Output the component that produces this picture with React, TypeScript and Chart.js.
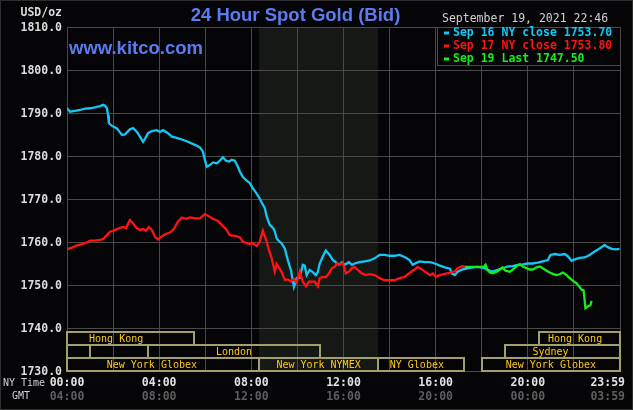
import React, { useEffect, useRef } from "react";
import { Chart, registerables } from "chart.js";

Chart.register(...registerables);

// ---- data (minutes after 00:00 NY time, price in USD/oz) ----
const sep16Minutes = [0, 8, 21, 34, 47, 60, 73, 86, 94, 99, 104, 107, 109, 117, 130, 138, 143, 151, 156, 164, 172, 182, 190, 198, 203, 211, 221, 234, 242, 250, 263, 273, 286, 307, 320, 333, 346, 354, 359, 364, 372, 380, 390, 398, 406, 414, 422, 429, 437, 445, 450, 458, 468, 476, 484, 492, 500, 507, 515, 520, 528, 536, 541, 546, 554, 559, 567, 575, 583, 591, 598, 606, 614, 619, 624, 632, 640, 648, 653, 658, 666, 674, 684, 692, 700, 708, 716, 723, 734, 742, 749, 762, 775, 788, 801, 814, 827, 840, 853, 866, 879, 892, 900, 911, 918, 932, 945, 958, 971, 984, 997, 1002, 1010, 1017, 1028, 1049, 1069, 1088, 1095, 1108, 1121, 1134, 1147, 1160, 1174, 1187, 1200, 1213, 1226, 1239, 1252, 1259, 1270, 1283, 1296, 1304, 1314, 1324, 1335, 1348, 1361, 1374, 1387, 1400, 1408, 1418, 1429, 1439];
const sep16Prices = [1791.1, 1790.3, 1790.5, 1790.7, 1791.0, 1791.1, 1791.3, 1791.6, 1791.9, 1791.7, 1791.1, 1789.5, 1787.6, 1787.0, 1786.4, 1785.5, 1784.9, 1785.0, 1785.5, 1786.2, 1786.5, 1785.6, 1784.5, 1783.3, 1784.0, 1785.3, 1785.8, 1786.0, 1785.6, 1786.0, 1785.3, 1784.5, 1784.2, 1783.6, 1783.1, 1782.6, 1782.0, 1781.0, 1779.1, 1777.5, 1777.9, 1778.5, 1778.3, 1778.9, 1779.7, 1778.9, 1778.7, 1779.1, 1778.9, 1777.5, 1776.4, 1775.1, 1774.3, 1773.7, 1772.5, 1771.5, 1770.4, 1769.2, 1767.9, 1765.9, 1764.0, 1763.3, 1762.5, 1760.8, 1760.0, 1759.7, 1758.5, 1755.8, 1753.5, 1749.6, 1751.6, 1751.7, 1754.7, 1754.5, 1752.3, 1753.5, 1753.0, 1752.3, 1753.0, 1755.0, 1756.6, 1758.0, 1757.0, 1755.8, 1755.3, 1754.7, 1755.3, 1754.7, 1755.3, 1754.7, 1755.0, 1755.3, 1755.5, 1755.7, 1756.2, 1757.0, 1757.0, 1756.8, 1756.8, 1757.0, 1756.5, 1755.8, 1754.7, 1755.2, 1755.5, 1755.3, 1755.3, 1755.0, 1754.5, 1754.1, 1753.8, 1752.7, 1752.3, 1753.1, 1753.6, 1754.0, 1754.2, 1753.9, 1753.5, 1753.1, 1753.5, 1753.9, 1754.3, 1754.4, 1754.7, 1754.8, 1755.0, 1755.0, 1755.2, 1755.5, 1755.8, 1757.0, 1757.2, 1757.0, 1757.2, 1756.7, 1755.6, 1756.0, 1756.3, 1756.4, 1757.0, 1757.8, 1758.5, 1759.3, 1758.8, 1758.4, 1758.3, 1758.4];

const sep17Minutes = [0, 13, 26, 39, 52, 60, 73, 86, 94, 104, 112, 120, 130, 138, 146, 154, 159, 164, 172, 182, 190, 198, 206, 213, 221, 229, 237, 245, 255, 268, 278, 289, 299, 310, 320, 333, 346, 359, 369, 380, 393, 403, 414, 424, 437, 450, 458, 468, 476, 484, 494, 502, 510, 518, 526, 533, 541, 546, 551, 559, 567, 575, 583, 591, 598, 606, 614, 622, 630, 637, 645, 653, 658, 666, 674, 682, 690, 697, 703, 710, 718, 726, 734, 742, 749, 757, 768, 778, 788, 801, 814, 827, 840, 853, 866, 879, 892, 905, 913, 921, 932, 945, 953, 960, 971, 984, 997, 1010, 1017, 1028, 1036];
const sep17Prices = [1758.3, 1758.7, 1759.2, 1759.5, 1759.9, 1760.3, 1760.3, 1760.5, 1760.7, 1761.6, 1762.4, 1762.6, 1763.0, 1763.3, 1763.5, 1763.2, 1764.3, 1765.1, 1764.3, 1763.2, 1762.8, 1763.0, 1762.6, 1763.5, 1762.8, 1761.2, 1760.6, 1761.2, 1761.8, 1762.2, 1763.0, 1764.7, 1765.7, 1765.4, 1765.7, 1765.5, 1765.5, 1766.5, 1766.0, 1765.4, 1764.9, 1764.0, 1763.0, 1761.6, 1761.4, 1761.1, 1760.1, 1759.7, 1759.6, 1759.7, 1759.1, 1760.1, 1762.6, 1760.6, 1758.1, 1756.2, 1753.1, 1754.9, 1754.2, 1753.0, 1751.2, 1751.3, 1750.8, 1751.3, 1750.5, 1753.1, 1750.8, 1749.7, 1750.8, 1750.8, 1750.8, 1749.7, 1751.6, 1751.9, 1751.8, 1752.7, 1753.9, 1754.2, 1755.0, 1754.7, 1755.2, 1752.7, 1753.1, 1753.9, 1754.2, 1753.5, 1752.7, 1752.3, 1752.5, 1752.3, 1751.6, 1751.1, 1751.1, 1751.1, 1751.6, 1751.9, 1752.8, 1753.6, 1754.2, 1753.8, 1753.1, 1752.3, 1752.7, 1751.9, 1752.3, 1752.6, 1752.8, 1753.2, 1753.9, 1754.3, 1754.3];

const sep19Minutes = [1036, 1062, 1085, 1090, 1095, 1101, 1108, 1119, 1127, 1134, 1142, 1153, 1160, 1171, 1179, 1187, 1197, 1205, 1213, 1223, 1231, 1239, 1249, 1257, 1265, 1275, 1283, 1291, 1301, 1309, 1317, 1327, 1335, 1340, 1345, 1348, 1350, 1356, 1363, 1366];
const sep19Prices = [1754.2, 1754.2, 1754.2, 1754.7, 1753.5, 1752.9, 1752.7, 1753.1, 1753.6, 1754.1, 1753.3, 1753.1, 1753.5, 1754.4, 1754.8, 1754.3, 1753.9, 1753.6, 1753.6, 1754.1, 1754.3, 1753.9, 1753.3, 1752.9, 1752.6, 1752.3, 1752.5, 1752.9, 1752.3, 1751.6, 1751.0, 1750.4, 1749.5, 1748.9, 1748.8, 1746.5, 1744.6, 1745.0, 1745.3, 1746.3];

const seriesLabels = ["Sep 16 NY close 1753.70", "Sep 17 NY close 1753.80", "Sep 19 Last 1747.50"];

const nyTimeLabels = ["00:00", "04:00", "08:00", "12:00", "16:00", "20:00", "23:59"];
const gmtTimeLabels = ["04:00", "08:00", "12:00", "16:00", "20:00", "00:00", "03:59"];
const timeLabelMinutes = [0, 240, 480, 720, 960, 1200, 1439];

const priceMin = 1730;
const priceMax = 1810;
const priceStep = 10;
const dayMinutes = 1440;
const gridStepMinutes = 120;

const nymexStart = 500;
const nymexEnd = 810;

const sessionNames = ["Hong Kong", "Hong Kong", "", "", "London", "Sydney", "New York Globex", "New York NYMEX", "NY Globex", "New York Globex"];
const sessionRows = [0, 0, 1, 1, 1, 1, 2, 2, 2, 2];
const sessionStarts = [0, 1230, 0, 60, 210, 1140, 0, 500, 810, 1080];
const sessionEnds = [330, 1440, 60, 210, 660, 1440, 500, 810, 1035, 1440];
const sessionLabelAt = [128, 1323, 0, 0, 435, 1259, 221, 655, 911, 1260];

const titleText = "24 Hour Spot Gold (Bid)";
const siteText = "www.kitco.com";
const stampText = "September 19, 2021 22:46";
const unitText = "USD/oz";

// ---- styles ----
const BG = "#050508";
const GRID = "#494949";
const SHADE = "#151815";
const CYAN = "#14c6f4";
const RED = "#ff1212";
const GREEN = "#16ee16";
const SESSION_LINE = "#a29f6c";
const SESSION_TEXT = "#ffc814";
const MONO = '"DejaVu Sans Mono", monospace';
const SANS = '"Liberation Sans", Arial, sans-serif';
const seriesColors = [CYAN, RED, GREEN];

const pts = (xs: number[], ys: number[]) => xs.map((m, i) => ({ x: m, y: ys[i] }));

const kitcoPlugin = {
  id: "kitcoDecor",
  beforeDraw(chart: any) {
    const { ctx, chartArea: a, scales } = chart;
    const x = scales.x;
    ctx.save();
    ctx.fillStyle = BG;
    ctx.fillRect(0, 0, chart.width, chart.height);
    const x1 = x.getPixelForValue(nymexStart);
    const x2 = x.getPixelForValue(nymexEnd);
    ctx.fillStyle = SHADE;
    ctx.fillRect(x1, a.top, x2 - x1, a.bottom - a.top);
    ctx.restore();
  },
  afterDatasetsDraw(chart: any) {
    const { ctx, chartArea: a, scales } = chart;
    const x = scales.x;
    ctx.save();
    // session boxes
    const rowH = 13;
    ctx.lineWidth = 2;
    ctx.strokeStyle = SESSION_LINE;
    ctx.font = `10px ${MONO}`;
    ctx.textBaseline = "middle";
    ctx.textAlign = "center";
    sessionNames.forEach((name, i) => {
      const top = a.bottom - (3 - sessionRows[i]) * rowH;
      const l = x.getPixelForValue(sessionStarts[i]);
      const r = x.getPixelForValue(sessionEnds[i]);
      ctx.strokeRect(Math.round(l), top, Math.round(r) - Math.round(l), rowH);
      if (name) {
        ctx.fillStyle = SESSION_TEXT;
        ctx.fillText(name, x.getPixelForValue(sessionLabelAt[i]), top + rowH / 2 + 0.5);
      }
    });
    // legend box
    const lw = 183;
    const lh = 38;
    const lx = a.right - lw;
    ctx.fillStyle = BG;
    ctx.fillRect(lx, a.top, lw, lh);
    ctx.lineWidth = 1;
    ctx.strokeStyle = GRID;
    ctx.strokeRect(lx + 0.5, a.top + 0.5, lw, lh);
    ctx.font = `bold 11.5px ${MONO}`;
    ctx.textAlign = "left";
    seriesLabels.forEach((s, i) => {
      const cy = a.top + 5.5 + i * 13;
      ctx.fillStyle = seriesColors[i];
      ctx.fillRect(lx + 7, cy - 1, 5, 3);
      ctx.fillText(s, lx + 16, cy + 0.5);
    });
    ctx.restore();
  },
  afterDraw(chart: any) {
    const { ctx, chartArea: a, scales } = chart;
    const x = scales.x;
    ctx.save();
    ctx.textBaseline = "middle";
    // time labels
    ctx.font = `bold 11.5px ${MONO}`;
    ctx.textAlign = "center";
    const maxRight = chart.width - 8;
    timeLabelMinutes.forEach((m, i) => {
      let px = x.getPixelForValue(m);
      const w = ctx.measureText(nyTimeLabels[i]).width;
      if (px + w / 2 > maxRight) px = maxRight - w / 2;
      ctx.fillStyle = "#e2e2e2";
      ctx.fillText(nyTimeLabels[i], px, a.bottom + 12.5);
      ctx.fillStyle = "#5e5e5e";
      ctx.fillText(gmtTimeLabels[i], px, a.bottom + 26.5);
    });
    ctx.font = `10px ${MONO}`;
    ctx.textAlign = "left";
    ctx.fillStyle = "#cfcfcf";
    ctx.fillText("NY Time", 3, a.bottom + 12.5);
    ctx.fillText("GMT", 12, a.bottom + 25.5);
    // unit
    ctx.font = `bold 11.5px ${MONO}`;
    ctx.textAlign = "right";
    ctx.fillStyle = "#dcdcdc";
    ctx.fillText(unitText, a.left - 5, 13);
    // stamp
    ctx.font = `11.5px ${MONO}`;
    ctx.textAlign = "left";
    ctx.fillStyle = "#d0d0d0";
    ctx.fillText(stampText, 442, 19.5);
    // title
    ctx.textBaseline = "alphabetic";
    ctx.font = `bold 18.5px ${SANS}`;
    ctx.textAlign = "center";
    ctx.fillStyle = "#5b7cf0";
    ctx.fillText(titleText, 295.5, 21);
    ctx.font = `bold 18.5px ${SANS}`;
    ctx.textAlign = "left";
    ctx.fillText(siteText, 69, 54);
    // outer frame
    ctx.strokeStyle = "#2e2e2e";
    ctx.lineWidth = 1;
    ctx.strokeRect(0.5, 0.5, chart.width - 1, chart.height - 1);
    ctx.restore();
  },
};

export default function App() {
  const ref = useRef<HTMLCanvasElement | null>(null);
  useEffect(() => {
    document.body.style.margin = "0";
    document.body.style.background = BG;
    const canvas = ref.current;
    if (!canvas) return;
    const lineDs = (label: string, data: any[], color: string) => ({
      label,
      data,
      borderColor: color,
      backgroundColor: color,
      borderWidth: 2.3,
      pointRadius: 0,
      tension: 0,
      fill: false,
    });
    const chart = new Chart(canvas, {
      type: "line",
      data: {
        datasets: [
          lineDs(seriesLabels[2], pts(sep19Minutes, sep19Prices), GREEN),
          lineDs(seriesLabels[1], pts(sep17Minutes, sep17Prices), RED),
          lineDs(seriesLabels[0], pts(sep16Minutes, sep16Prices), CYAN),
        ],
      },
      options: {
        animation: false,
        responsive: false,
        devicePixelRatio: 1,
        layout: { padding: { left: 0, top: 27, right: 13, bottom: 39 } },
        plugins: { legend: { display: false }, title: { display: false }, tooltip: { enabled: false } },
        scales: {
          x: {
            type: "linear",
            min: 0,
            max: dayMinutes,
            ticks: { display: false, stepSize: gridStepMinutes },
            grid: { color: GRID, drawTicks: false },
            border: { color: GRID },
            afterFit: (s: any) => {
              s.height = 0;
            },
          },
          y: {
            min: priceMin,
            max: priceMax,
            ticks: {
              stepSize: priceStep,
              padding: 5,
              labelOffset: 1,
              color: "#dcdcdc",
              font: { family: MONO, size: 11.5, weight: "bold" },
              callback: (v: any) => Number(v).toFixed(1),
            },
            grid: { color: GRID, drawTicks: false },
            border: { color: GRID },
            afterFit: (s: any) => {
              s.width = 67;
            },
          },
        },
      } as any,
      plugins: [kitcoPlugin],
    });
    return () => chart.destroy();
  }, []);
  return <canvas ref={ref} width={633} height={410} style={{ display: "block" }} />;
}
